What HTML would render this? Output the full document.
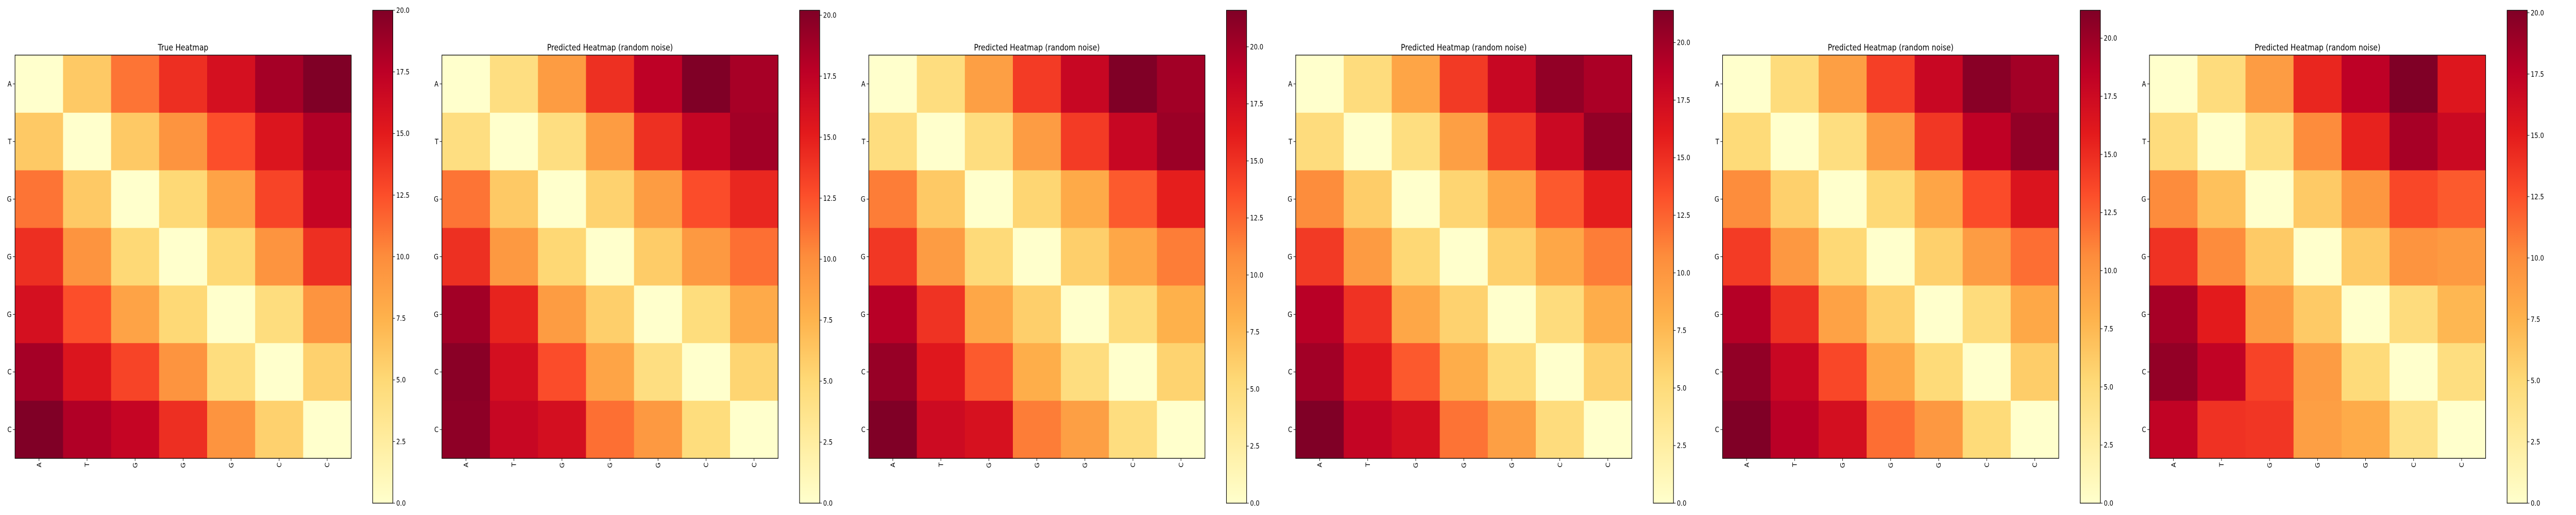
<!DOCTYPE html>
<html><head><meta charset="utf-8">
<style>
html,body{margin:0;padding:0;background:#fff;width:100vw;height:100vh;overflow:hidden;}
svg{display:block;position:absolute;left:0;top:0;width:100vw;height:100vh;font-family:"DejaVu Sans","Liberation Sans",sans-serif;}
</style></head>
<body>
<svg id="chart" viewBox="0 0 6000 1000" preserveAspectRatio="none" xmlns="http://www.w3.org/2000/svg">
<defs id="defs"></defs>
</svg>
<script>
const labels = ["A","T","G","G","G","C","C"];
const titles = ["True Heatmap","Predicted Heatmap (random noise)","Predicted Heatmap (random noise)","Predicted Heatmap (random noise)","Predicted Heatmap (random noise)","Predicted Heatmap (random noise)"];
const heatTrue = [
[0,6,11,14,16,18.5,20],
[6,0,6,9.5,12.5,15.5,18],
[11,6,0,5,8.5,13,17],
[14,9.5,5,0,5,9.5,14],
[16,12.5,8.5,5,0,4.5,9.5],
[18.5,15.5,13,9.5,4.5,0,5.5],
[20,18,17,14,9.5,5.5,0]];
const heatPred1 = [
[0,4.4,9.1,14.1,17.6,20.2,18.6],
[4.4,0,4.4,9.1,14.1,17.2,18.8],
[11.1,6.1,0,5.5,9.1,12.7,14.5],
[14.1,9.3,5.1,0,5.9,9.3,11.3],
[18.8,14.7,9.1,5.7,0,4.6,8.1],
[19.8,16.2,12.7,8.5,4.4,0,5.3],
[19.6,17.0,16.2,11.3,9.3,4.6,0]];
const heatPred2 = [
[0,4.8,9.5,14.5,18.2,21.6,20.1],
[4.8,0,4.8,9.7,14.5,18.2,20.4],
[11.5,6.5,0,5.6,8.7,13.0,16.0],
[14.7,9.7,5.2,0,6.1,8.9,11.5],
[19.1,14.9,8.9,6.1,0,5.0,8.2],
[20.6,16.5,13.0,8.4,4.8,0,5.8],
[21.6,17.8,17.1,11.5,9.5,4.8,0]];
const heatPred3 = [
[0,4.9,9.0,14.4,18.0,20.6,19.5],
[4.9,0,4.7,9.4,14.4,17.8,20.6],
[10.7,6.2,0,5.6,8.8,12.9,15.9],
[14.4,9.7,5.4,0,6.0,8.8,11.4],
[18.9,14.8,8.8,5.8,0,4.9,8.4],
[19.9,16.5,12.9,8.4,5.1,0,5.8],
[21.4,18.2,17.2,11.8,9.4,4.9,0]];
const heatPred4 = [
[0,4.9,9.3,14.0,17.8,20.8,19.7],
[5.1,0,4.7,9.5,14.4,18.4,20.4],
[10.6,5.9,0,5.3,8.9,13.4,16.5],
[14.2,9.8,5.3,0,5.9,9.5,11.9],
[18.9,14.8,9.1,5.9,0,4.9,8.7],
[20.4,17.8,13.6,8.7,5.1,0,6.1],
[21.2,18.7,17.0,11.9,9.8,5.1,0]];
const heatPred5 = [
[0,4.6,9.0,14.5,17.5,20.1,15.5],
[4.6,0,4.4,10.1,14.7,18.5,16.7],
[10.1,6.6,0,6.0,9.4,12.9,12.1],
[13.9,10.1,6.0,0,6.0,9.6,9.2],
[18.5,15.1,9.2,6.0,0,4.6,7.2],
[19.3,17.3,13.1,9.0,4.8,0,4.4],
[17.3,13.9,13.7,8.8,8.0,4.0,0]];
const colorbarTicks = [0,2.5,5,7.5,10,12.5,15,17.5,20];
const panels = [heatTrue,heatPred1,heatPred2,heatPred3,heatPred4,heatPred5];

const stops = ["#ffffcc","#ffeda0","#fed976","#feb24c","#fd8d3c","#fc4e2a","#e31a1c","#bd0026","#800026"];
function hex(c){return [parseInt(c.slice(1,3),16),parseInt(c.slice(3,5),16),parseInt(c.slice(5,7),16)];}
function cmap(t){
  t=Math.max(0,Math.min(1,t));
  const p=t*(stops.length-1), i=Math.min(Math.floor(p),stops.length-2), f=p-i;
  const a=hex(stops[i]), b=hex(stops[i+1]);
  return "rgb("+a.map((v,k)=>Math.round(v+(b[k]-v)*f)).join(",")+")";
}
const NS="http://www.w3.org/2000/svg";
const svg=document.getElementById("chart");
const defs=document.getElementById("defs");
function mk(tag,attrs,parent){const e=document.createElementNS(NS,tag);for(const k in attrs)e.setAttribute(k,attrs[k]);(parent||svg).appendChild(e);return e;}

const grad=mk("linearGradient",{id:"cbgrad",x1:"0",y1:"1",x2:"0",y2:"0"},defs);
stops.forEach((c,i)=>mk("stop",{offset:(i/(stops.length-1)),"stop-color":c},grad));

const HX0=35, PSTEP=994.3, HW=783, HY=107, CBX=833, CBW=47, CBY=20, CBB=977;
panels.forEach((data,pi)=>{
  const ox=HX0+PSTEP*pi;
  const n=labels.length, cell=HW/n;
  let vmin=Infinity,vmax=-Infinity;
  data.forEach(r=>r.forEach(v=>{vmin=Math.min(vmin,v);vmax=Math.max(vmax,v);}));
  const xs=i=>ox+i*cell, ys=i=>HY+i*cell;
  const g=mk("g",{});
  
  
  const t=mk("text",{x:ox+HW/2,y:HY-9,"text-anchor":"middle","font-size":"16.7",fill:"#000"},g);
  t.textContent=titles[pi];
  
  
  data.forEach((row,r)=>row.forEach((v,c)=>{
    const rc=mk("rect",{x:xs(c),y:ys(r),width:cell+0.6,height:cell+0.6,fill:cmap((v-vmin)/(vmax-vmin))},g);
    
    
  }));
  const fr=mk("rect",{x:ox,y:HY,width:HW,height:HW,fill:"none",stroke:"#000","stroke-width":1.3},g);
  
  
  labels.forEach((l,i)=>{
    const cy=ys(i)+cell/2;
    mk("line",{x1:ox,x2:ox-5,y1:cy,y2:cy,stroke:"#000","stroke-width":1},g);
    const yt=mk("text",{x:ox-8,y:cy+5,"text-anchor":"end","font-size":"13.9"},g);
    yt.textContent=l;
    
    
    const cx=xs(i)+cell/2;
    mk("line",{x1:cx,x2:cx,y1:HY+HW,y2:HY+HW+5,stroke:"#000","stroke-width":1},g);
    const xt=mk("text",{x:0,y:0,"text-anchor":"end","font-size":"13.9",transform:"translate("+(cx+5)+","+(HY+HW+8)+") rotate(-90)"},g);
    xt.textContent=l;
    
    
  });
  const cbx=ox+CBX;
  const cb=mk("rect",{x:cbx,y:CBY,width:CBW,height:CBB-CBY,fill:"url(#cbgrad)",stroke:"#000","stroke-width":1.3},g);
  
  
  const cy=v=>CBB-(v-vmin)/(vmax-vmin)*(CBB-CBY);
  colorbarTicks.forEach(v=>{
    if(v<vmin-1e-9||v>vmax+1e-9)return;
    const y=cy(v);
    mk("line",{x1:cbx+CBW,x2:cbx+CBW+5,y1:y,y2:y,stroke:"#000","stroke-width":1},g);
    const ct=mk("text",{x:cbx+CBW+8,y:y+5,"font-size":"13.9"},g);
    ct.textContent=v.toFixed(1);
    
    
  });
});
</script>
</body></html>
